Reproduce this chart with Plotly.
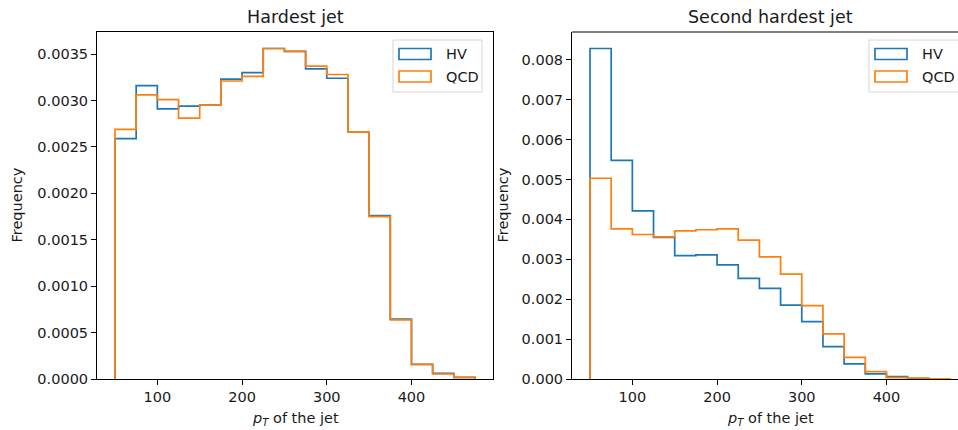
import numpy as np
import plotly.graph_objects as go

# Histogram binning (pT in GeV)
bin_edges = np.arange(50, 476, 25)

# Normalised frequencies, hardest jet
hv_lead = [0.00259, 0.00316, 0.00291, 0.00294, 0.00295, 0.00323, 0.00330, 0.00356, 0.00353,
           0.00334, 0.00324, 0.00266, 0.00176, 0.000645, 0.000158, 0.000062, 0.000018]
qcd_lead = [0.00269, 0.00306, 0.00301, 0.00281, 0.00295, 0.00321, 0.00326, 0.00356, 0.00353,
            0.00337, 0.00328, 0.00266, 0.00175, 0.000637, 0.000158, 0.000054, 0.000018]

# Normalised frequencies, second hardest jet
hv_sub = [0.00828, 0.00548, 0.00421, 0.00355, 0.00309, 0.00311, 0.00286, 0.00252, 0.00227,
          0.00185, 0.00144, 0.00081, 0.00038, 0.000126, 0.000058, 0.000008, 0.000003]
qcd_sub = [0.00503, 0.00376, 0.00362, 0.00356, 0.00371, 0.00374, 0.00376, 0.00348, 0.00306,
           0.00263, 0.00184, 0.00113, 0.00054, 0.000184, 0.000033, 0.000025, 0.000004]

series_names = ["HV", "QCD"]
colors = ["#1f77b4", "#ff7f0e"]

x_ticks = [100, 200, 300, 400]
y_ticks_lead = [0.0, 0.0005, 0.0010, 0.0015, 0.0020, 0.0025, 0.0030, 0.0035]
y_ticks_sub = [0.000, 0.001, 0.002, 0.003, 0.004, 0.005, 0.006, 0.007, 0.008]

W, H = 958, 430
FONT = "DejaVu Sans"
TEXT = "#1a1a1a"
TICK_SIZE = 14.5
TITLE_SIZE = 17.5


def px(x):
    return x / W


def py(y):
    return (H - y) / H


def step_xy(edges, vals):
    xs = np.repeat(edges, 2)
    ys = np.concatenate([[0.0], np.repeat(np.asarray(vals, float), 2), [0.0]])
    return xs, ys


fig = go.Figure()

panels = [
    (hv_lead, qcd_lead, "x", "y"),
    (hv_sub, qcd_sub, "x2", "y2"),
]
for hv, qcd, xa, ya in panels:
    for vals, name, col in zip([hv, qcd], series_names, colors):
        xs, ys = step_xy(bin_edges, vals)
        fig.add_trace(go.Scatter(x=xs, y=ys, mode="lines", name=name, xaxis=xa, yaxis=ya,
                                 line=dict(color=col, width=1.7), showlegend=False,
                                 hoverinfo="skip"))

# Axis limits with 5% margins like the default autoscaling
span = bin_edges[-1] - bin_edges[0]
x_lo = bin_edges[0] - 0.05 * span
x_hi = bin_edges[-1] + 0.05 * span
ymax_lead = max(max(hv_lead), max(qcd_lead)) * 1.05
ymax_sub = max(max(hv_sub), max(qcd_sub)) * 1.05

# Panel geometry in pixels
L1, R1, T, B = 97, 493, 32, 379
L2 = 572
px_per_unit = (R1 - L1) / (x_hi - x_lo)
x_hi_sub = x_lo + (W - L2) / px_per_unit

axis_common = dict(showgrid=False, zeroline=False, showline=True, linecolor="black",
                   linewidth=1, ticks="outside", ticklen=5, tickwidth=1, tickcolor="black",
                   automargin=False,
                   tickfont=dict(family=FONT, size=TICK_SIZE, color=TEXT))

fig.update_layout(
    width=W, height=H,
    margin=dict(l=0, r=0, t=0, b=0, pad=0),
    paper_bgcolor="white", plot_bgcolor="white",
    xaxis=dict(domain=[px(L1), px(R1)], range=[x_lo, x_hi], tickvals=x_ticks,
               mirror=True, anchor="y", **axis_common),
    yaxis=dict(domain=[py(B), py(T)], range=[0, ymax_lead], tickvals=y_ticks_lead,
               tickformat=".4f", mirror=True, anchor="x", **axis_common),
    xaxis2=dict(domain=[px(L2), 1.0], range=[x_lo, x_hi_sub], tickvals=x_ticks,
                mirror=False, anchor="y2", **axis_common),
    yaxis2=dict(domain=[py(B), py(T)], range=[0, ymax_sub], tickvals=y_ticks_sub,
                tickformat=".3f", mirror=False, anchor="x2", **axis_common),
)

shapes = []
annotations = []

# Top spine of the right panel (its right edge runs off the canvas)
shapes.append(dict(type="line", xref="paper", yref="paper", x0=px(L2), x1=1.0,
                   y0=py(T), y1=py(T), line=dict(color="black", width=1), layer="above"))

# Titles and axis labels
for cx, title in [((L1 + R1) / 2, "Hardest jet"), ((L2 + 968) / 2, "Second hardest jet")]:
    annotations.append(dict(x=px(cx), y=py(17), xref="paper", yref="paper", text=title,
                            showarrow=False, xanchor="center", yanchor="middle",
                            font=dict(family=FONT, size=TITLE_SIZE, color=TEXT)))
for cx in [(L1 + R1) / 2, (L2 + 968) / 2]:
    annotations.append(dict(x=px(cx), y=py(419), xref="paper", yref="paper",
                            text="<i>p</i><sub><i>T</i></sub> of the jet",
                            showarrow=False, xanchor="center", yanchor="middle",
                            font=dict(family=FONT, size=TICK_SIZE, color=TEXT)))
for lx in [16, 502]:
    annotations.append(dict(x=px(lx), y=py((T + B) / 2), xref="paper", yref="paper",
                            text="Frequency", textangle=-90, showarrow=False,
                            xanchor="center", yanchor="middle",
                            font=dict(family=FONT, size=TICK_SIZE, color=TEXT)))

# Legends drawn as outlined patches with labels
legend_boxes = [(393, 482), (869, 975)]
for bx0, bx1 in legend_boxes:
    shapes.append(dict(type="rect", xref="paper", yref="paper",
                       x0=px(bx0), x1=px(bx1), y0=py(92), y1=py(40),
                       line=dict(color="#d5d5d5", width=1), fillcolor="rgba(255,255,255,0.8)",
                       layer="above"))
    patch_x0 = bx0 + 6
    for i, (name, col) in enumerate(zip(series_names, colors)):
        y0, y1 = 48.5 + i * 22.5, 59.5 + i * 22.5
        shapes.append(dict(type="rect", xref="paper", yref="paper",
                           x0=px(patch_x0), x1=px(patch_x0 + 32), y0=py(y1), y1=py(y0),
                           line=dict(color=col, width=1.7), fillcolor="rgba(0,0,0,0)",
                           layer="above"))
        annotations.append(dict(x=px(patch_x0 + 45), y=py((y0 + y1) / 2), xref="paper",
                                yref="paper", text=name, showarrow=False,
                                xanchor="left", yanchor="middle",
                                font=dict(family=FONT, size=TICK_SIZE, color=TEXT)))

fig.update_layout(shapes=shapes, annotations=annotations)

fig.write_html("out.html")
